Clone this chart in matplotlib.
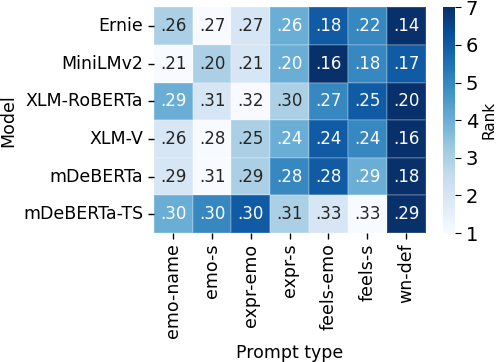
import numpy as np
import matplotlib
matplotlib.use("Agg")
import matplotlib.pyplot as plt
import seaborn as sns

models = ["Ernie", "MiniLMv2", "XLM-RoBERTa", "XLM-V", "mDeBERTa", "mDeBERTa-TS"]
prompts = ["emo-name", "emo-s", "expr-emo", "expr-s", "feels-emo", "feels-s", "wn-def"]

# shown values per model (rows) and prompt type (columns)
scores = [
    [.26, .27, .27, .26, .18, .22, .14],
    [.21, .20, .21, .20, .16, .18, .17],
    [.29, .31, .32, .30, .27, .25, .20],
    [.26, .28, .25, .24, .24, .24, .16],
    [.29, .31, .29, .28, .28, .29, .18],
    [.30, .30, .30, .31, .33, .33, .29],
]

# rank within each row (colour)
ranks = [
    [3, 1, 2, 4, 6, 5, 7],
    [1, 3, 2, 4, 7, 5, 6],
    [4, 2, 1, 3, 5, 6, 7],
    [2, 1, 3, 4, 6, 5, 7],
    [2, 1, 3, 5, 6, 4, 7],
    [4, 5, 6, 3, 2, 1, 7],
]


def main():
    plt.rcParams['font.family'] = ['DejaVu Sans']
    R = np.array(ranks)
    labels = np.array([["{:.2f}".format(v).lstrip("0") for v in row] for row in scores])

    fig = plt.figure(figsize=(4.96, 3.62), dpi=100)
    ax = fig.add_axes([0.310, 0.356, 0.548, 0.624])
    cax = fig.add_axes([0.893, 0.356, 0.025, 0.624])

    sns.heatmap(R, ax=ax, cbar_ax=cax, cmap="Blues", vmin=1, vmax=7,
                annot=labels, fmt="", annot_kws={"fontsize": 12},
                linewidths=0.3, linecolor=(1, 1, 1, 0.15),
                xticklabels=prompts, yticklabels=models,
                cbar_kws={"ticks": range(1, 8)})

    ax.set_xlabel("Prompt type", fontsize=12.5, labelpad=4)
    ax.set_ylabel("Model", fontsize=12.5, labelpad=4)
    ax.tick_params(axis="x", labelsize=12.5, rotation=90, length=4, width=1)
    ax.tick_params(axis="y", labelsize=12.5, rotation=0, length=4, width=1)
    cax.tick_params(labelsize=14, length=4)
    cax.set_ylabel("Rank", fontsize=11, labelpad=2)
    ax.collections[0].colorbar.outline.set_visible(False)

    fig.savefig("out.png", dpi=100)


if __name__ == '__main__':
    main()
